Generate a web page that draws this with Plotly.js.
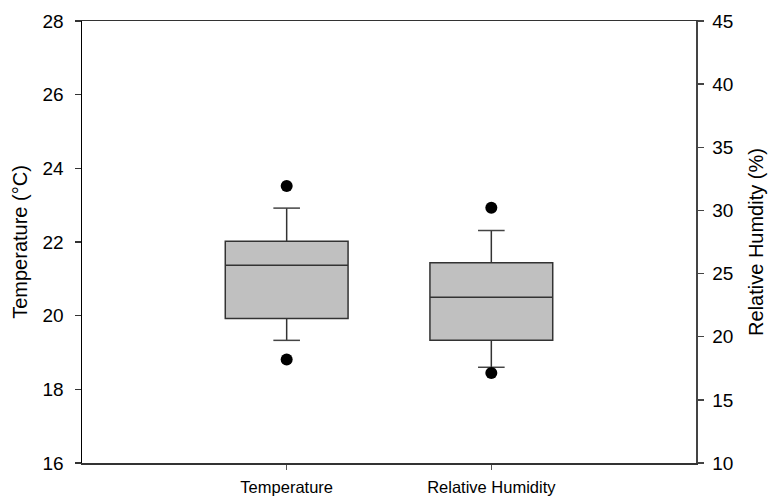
<!DOCTYPE html>
<html>
<head>
<meta charset="utf-8">
<script src="https://cdn.plot.ly/plotly-3.0.1.min.js"></script>
<style>html,body{margin:0;padding:0;background:#fff;}#chart{width:768px;height:497px;}</style>
</head>
<body>
<div id="chart"></div>
<script>
// Data
const categories = ['Temperature', 'Relative Humidity'];
const positions = [1, 2];
const q1 = [19.92, 19.72];
const median = [21.37, 23.13];
const q3 = [22.02, 25.85];
const lowerWhisker = [19.33, 17.58];
const upperWhisker = [22.92, 28.41];
const outliersLow = [18.81, 17.13];
const outliersHigh = [23.52, 30.21];
const axisFor = ['y', 'y2'];

const CAP = 0.13;
const BOXW = 0.6;
const traces = [];
for (let i = 0; i < categories.length; i++) {
  traces.push({
    type: 'box', x: [positions[i]], q1: [q1[i]], median: [median[i]], q3: [q3[i]],
    lowerfence: [lowerWhisker[i]], upperfence: [upperWhisker[i]],
    width: BOXW, fillcolor: '#c0c0c0', line: {color: '#333333', width: 1.5},
    whiskerwidth: 0, boxpoints: false, yaxis: axisFor[i], hoverinfo: 'skip', name: categories[i]
  });
  // whisker caps
  [lowerWhisker[i], upperWhisker[i]].forEach(v => {
    traces.push({
      type: 'scatter', mode: 'lines', x: [positions[i] - CAP / 2, positions[i] + CAP / 2], y: [v, v],
      line: {color: '#444444', width: 1.5}, yaxis: axisFor[i], hoverinfo: 'skip'
    });
  });
  traces.push({
    type: 'scatter', mode: 'markers', x: [positions[i], positions[i]], y: [outliersLow[i], outliersHigh[i]],
    marker: {color: '#000000', size: 12}, yaxis: axisFor[i], hoverinfo: 'skip'
  });
}

const fontFam = 'Liberation Sans, Arial, sans-serif';
const layout = {
  width: 768, height: 497,
  margin: {l: 82, r: 72, t: 21, b: 34},
  paper_bgcolor: '#fff', plot_bgcolor: '#fff',
  showlegend: false,
  font: {family: fontFam, color: '#000'},
  xaxis: {
    range: [0, 3], tickvals: positions, ticktext: categories,
    showgrid: false, zeroline: false, showline: true, linecolor: '#333', linewidth: 1.5,
    mirror: true, ticks: 'outside', ticklen: 5, tickcolor: '#555', tickwidth: 1,
    ticklabelstandoff: 4,
    tickfont: {size: 16.5, family: fontFam, color: '#000'}
  },
  yaxis: {
    range: [16, 28], dtick: 2, showgrid: false, zeroline: false,
    showline: true, linecolor: '#000', linewidth: 1.5,
    ticks: 'outside', ticklen: 6, tickcolor: '#333', tickwidth: 1.5,
    ticklabelstandoff: 7,
    tickfont: {size: 19, family: fontFam, color: '#000'},
    title: {text: 'Temperature (°C)', font: {size: 20, family: fontFam}, standoff: 9}
  },
  yaxis2: {
    range: [10, 45], dtick: 5, overlaying: 'y', side: 'right',
    showgrid: false, zeroline: false, showline: true, linecolor: '#444', linewidth: 1.5,
    ticks: 'outside', ticklen: 6, tickcolor: '#444', tickwidth: 1.5,
    ticklabelstandoff: 5,
    tickfont: {size: 19, family: fontFam, color: '#000'},
    title: {text: 'Relative Humdity (%)', font: {size: 20, family: fontFam}, standoff: 16}
  }
};
Plotly.newPlot('chart', traces, layout, {staticPlot: true});
</script>
</body>
</html>
